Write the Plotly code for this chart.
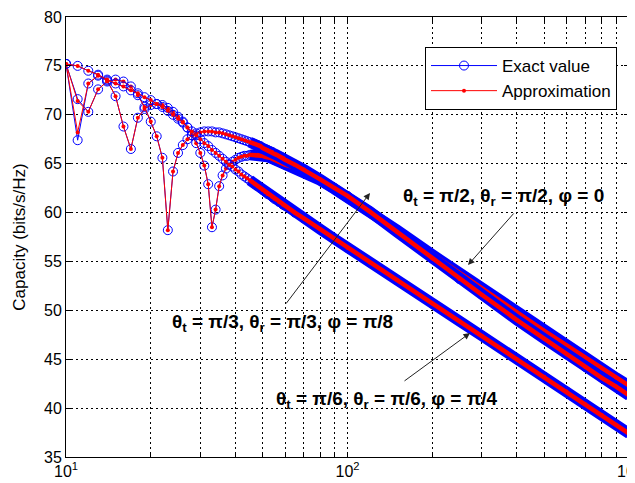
import plotly.graph_objects as go

# ---------------- data ----------------
X_DENSE = list(range(10, 61))
X_SPARSE = [65, 70, 80, 90, 100, 120, 150, 200, 250, 300, 400, 500, 600, 700, 800, 900, 1000]

# theta = pi/2, phi = 0
EXACT_A_DENSE = [75.2, 67.4, 73.2, 74.0, 73.5, 71.9, 68.8, 66.5, 69.7, 70.6,
                 71.0, 71.1, 71.0, 70.7, 70.3, 69.8, 69.3, 68.7, 67.9, 67.1,
                 66.1, 64.8, 62.9, 58.5, 60.3, 62.7, 63.8, 64.5, 64.9, 65.2,
                 65.4, 65.6, 65.7, 65.8, 65.8, 65.9, 65.9, 65.9, 65.9, 65.8,
                 65.8, 65.7, 65.7, 65.6, 65.5, 65.4, 65.3, 65.2, 65.1, 65.0,
                 64.9]
EXACT_A_SPARSE = [64.6, 64.2, 63.3, 62.4, 61.6, 60.1, 58.2, 55.7, 53.8, 52.2,
                  49.8, 47.9, 46.4, 45.1, 44.0, 43.1, 42.3]

# theta = pi/3, phi = pi/8
EXACT_B_DENSE = [75.2, 71.6, 70.3, 72.6, 73.4, 73.6, 73.4, 72.9, 72.0, 70.8,
                 69.3, 67.8, 65.6, 58.2, 64.2, 66.1, 66.9, 67.5, 67.9, 68.1,
                 68.2, 68.3, 68.3, 68.3, 68.2, 68.2, 68.1, 68.0, 67.9, 67.8,
                 67.7, 67.6, 67.5, 67.4, 67.3, 67.2, 67.1, 67.0, 66.9, 66.8,
                 66.6, 66.5, 66.4, 66.3, 66.2, 66.0, 65.9, 65.8, 65.7, 65.6,
                 65.4]
EXACT_B_SPARSE = [64.9, 64.4, 63.4, 62.5, 61.7, 60.1, 58.0, 55.3, 53.2, 51.6,
                  49.0, 47.1, 45.5, 44.2, 43.1, 42.2, 41.3]

# theta = pi/6, phi = pi/4
EXACT_C_DENSE = [75.2, 75.0, 74.5, 74.1, 73.6, 73.2, 72.9, 72.5, 72.2, 71.8,
                 71.5, 71.1, 70.8, 70.4, 70.0, 69.6, 69.2, 68.7, 68.3, 67.9,
                 67.5, 67.1, 66.8, 66.4, 66.1, 65.8, 65.5, 65.2, 64.9, 64.7,
                 64.4, 64.2, 63.9, 63.7, 63.5, 63.3, 63.1, 62.9, 62.7, 62.5,
                 62.3, 62.1, 61.9, 61.8, 61.6, 61.4, 61.3, 61.1, 61.0, 60.8,
                 60.7]
EXACT_C_SPARSE = [60.0, 59.4, 58.3, 57.3, 56.4, 54.9, 53.1, 50.7, 48.9, 47.4,
                  45.0, 43.2, 41.7, 40.4, 39.3, 38.3, 37.4]

# approximation: same as exact except where the red dot visibly differs
APPROX_A_CHANGES = {11: 68.2}
APPROX_B_CHANGES = {11: 71.4}
APPROX_C_CHANGES = {}

X_TICKS = [10, 20, 30, 40, 50, 60, 70, 80, 90, 100, 200, 300, 400, 500, 600, 700, 800, 900, 1000]
X_TICK_TEXT = {10: "10<sup>1</sup>", 100: "10<sup>2</sup>", 1000: "10<sup>3</sup>"}
Y_TICKS = [35, 40, 45, 50, 55, 60, 65, 70, 75, 80]

LABELS = [
    "<b>θ<sub>t</sub> = π/2, θ<sub>r</sub> = π/2, φ = 0</b>",
    "<b>θ<sub>t</sub> = π/3, θ<sub>r</sub> = π/3, φ = π/8</b>",
    "<b>θ<sub>t</sub> = π/6, θ<sub>r</sub> = π/6, φ = π/4</b>",
]

# ---------------- figure ----------------
# the page body adds an 8 px offset; margins below compensate so the plot area
# lands on page pixels x 66..629, y 17..457
OFF = 8
W, H = 635, 483
L, R, T, B = 66 - OFF, 14, 17 - OFF, 34
PW, PH = W - L - R, H - T - B
FONT = "Liberation Sans, Arial, sans-serif"


def px(xp):
    return (xp - OFF - L) / PW


def py(yp):
    return (H - B - (yp - OFF)) / PH


BLUE = "#0000ff"
RED = "#ff0000"
BAND_START = 45

fig = go.Figure()
x_all = X_DENSE + X_SPARSE
series = [
    (EXACT_A_DENSE + EXACT_A_SPARSE, APPROX_A_CHANGES),
    (EXACT_B_DENSE + EXACT_B_SPARSE, APPROX_B_CHANGES),
    (EXACT_C_DENSE + EXACT_C_SPARSE, APPROX_C_CHANGES),
]
for i, (ex, changes) in enumerate(series):
    ap = [changes.get(x, y) for x, y in zip(x_all, ex)]
    bx = [x for x in x_all if x >= BAND_START]
    bey = [y for x, y in zip(x_all, ex) if x >= BAND_START]
    bay = [y for x, y in zip(x_all, ap) if x >= BAND_START]
    fig.add_trace(go.Scatter(x=bx, y=bey, mode="lines",
                             line=dict(color=BLUE, width=11), showlegend=False,
                             hoverinfo="skip"))
    fig.add_trace(go.Scatter(x=x_all, y=ex, mode="lines+markers", name="Exact value",
                             line=dict(color=BLUE, width=1),
                             marker=dict(symbol="circle-open", size=9, color=BLUE,
                                         line=dict(width=1, color=BLUE)),
                             showlegend=(i == 0), legendrank=1))
    fig.add_trace(go.Scatter(x=bx, y=bay, mode="lines",
                             line=dict(color=RED, width=4.5), showlegend=False,
                             hoverinfo="skip"))
    fig.add_trace(go.Scatter(x=x_all, y=ap, mode="lines+markers", name="Approximation",
                             line=dict(color=RED, width=1),
                             marker=dict(symbol="circle", size=4, color=RED),
                             showlegend=(i == 0), legendrank=2))

grid = dict(showgrid=True, gridcolor="#000000", gridwidth=1, griddash="2px,3px")
axis_common = dict(showline=True, linecolor="black", linewidth=1, mirror="allticks",
                   ticks="inside", ticklen=5, tickcolor="black", zeroline=False,
                   tickfont=dict(family=FONT, size=16, color="black"),
                   automargin=False, **grid)

fig.update_xaxes(type="log", range=[1, 3], tickmode="array", tickvals=X_TICKS,
                 ticktext=[X_TICK_TEXT.get(v, "") for v in X_TICKS], **axis_common)
fig.update_yaxes(range=[35, 80], tickmode="array", tickvals=Y_TICKS,
                 ticktext=[str(v) for v in Y_TICKS],
                 title=dict(text="Capacity (bits/s/Hz)", standoff=14,
                            font=dict(family=FONT, size=17, color="black")),
                 **axis_common)

ann = []
text_pos = [(503, 197), (282, 323), (386, 400)]
for (tx, ty), label in zip(text_pos, LABELS):
    ann.append(dict(x=px(tx), y=py(ty), xref="paper", yref="paper", text=label,
                    xanchor="center", yanchor="middle",
                    showarrow=False, font=dict(family=FONT, size=19, color="black")))
arrows = [((468, 265), (515, 212)), ((370, 193), (285, 305)), ((470, 333), (403, 382))]
for (hx, hy), (tx, ty) in arrows:
    ann.append(dict(x=px(hx), y=py(hy), xref="paper", yref="paper", text="",
                    showarrow=True, ax=tx - hx, ay=ty - hy, axref="pixel", ayref="pixel",
                    arrowhead=2, arrowsize=1.3, arrowwidth=1, arrowcolor="#222222",
                    standoff=0, startstandoff=0))

fig.update_layout(
    width=W, height=H, margin=dict(l=L, r=R, t=T, b=B, autoexpand=False),
    paper_bgcolor="white", plot_bgcolor="white",
    font=dict(family=FONT, color="black"),
    annotations=ann,
    legend=dict(x=px(617), y=py(47), xanchor="right", yanchor="top",
                bgcolor="white", bordercolor="black", borderwidth=1,
                font=dict(family=FONT, size=17, color="black"),
                itemwidth=66, tracegroupgap=0),
    showlegend=True,
)

fig.write_html("out.html")
